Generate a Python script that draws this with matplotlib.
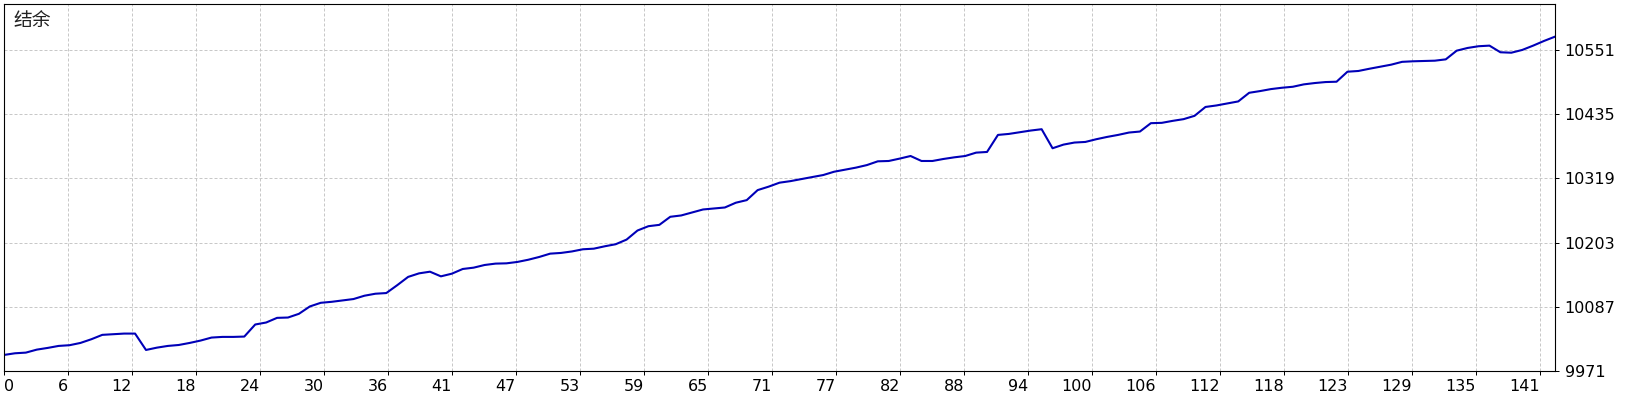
import numpy as np
import matplotlib
matplotlib.use('Agg')
import matplotlib.pyplot as plt
from matplotlib import font_manager

# balance after each trade
balance = [
    10000.0, 10003.0, 10004.2, 10009.6, 10012.7, 10016.3, 10017.6, 10021.7, 10028.4, 10036.3,
    10037.5, 10038.6, 10038.6, 10009.0, 10013.2, 10016.3, 10018.0, 10021.7, 10026.0, 10031.4,
    10032.6, 10032.6, 10033.2, 10055.0, 10058.6, 10067.0, 10067.6, 10074.3, 10087.6, 10094.2,
    10096.0, 10098.4, 10101.0, 10107.0, 10110.6, 10111.8, 10126.0, 10141.0, 10147.4, 10150.4,
    10142.0, 10146.8, 10155.3, 10157.7, 10162.5, 10165.0, 10165.5, 10168.0, 10172.0, 10177.0,
    10183.0, 10184.3, 10187.0, 10190.9, 10192.0, 10196.3, 10200.0, 10208.4, 10224.8, 10232.6,
    10235.0, 10249.6, 10252.0, 10257.4, 10262.8, 10264.6, 10266.4, 10275.0, 10279.7, 10297.8,
    10304.0, 10311.2, 10314.0, 10317.8, 10321.4, 10325.0, 10331.0, 10334.7, 10338.4, 10343.0,
    10349.8, 10350.4, 10354.7, 10359.4, 10350.4, 10350.4, 10354.0, 10357.0, 10359.4, 10365.5,
    10366.7, 10397.5, 10399.3, 10402.4, 10405.4, 10407.8, 10373.4, 10380.0, 10383.7, 10384.8,
    10389.7, 10393.9, 10397.5, 10401.8, 10403.6, 10418.7, 10419.3, 10422.9, 10426.0, 10432.0,
    10448.0, 10450.7, 10454.4, 10458.0, 10473.6, 10476.7, 10480.3, 10482.7, 10484.5, 10488.8,
    10491.2, 10493.0, 10493.6, 10511.7, 10513.0, 10517.0, 10520.7, 10524.4, 10529.5, 10530.5,
    10531.0, 10531.6, 10534.0, 10549.7, 10554.6, 10557.7, 10558.8, 10546.8, 10546.0, 10551.0,
    10558.8, 10567.3, 10575.0,
]

x_labels = ['0', '6', '12', '18', '24', '30', '36', '41', '47', '53', '59', '65', '71',
            '77', '82', '88', '94', '100', '106', '112', '118', '123', '129', '135', '141']
y_ticks = [9971, 10087, 10203, 10319, 10435, 10551]
y_top = 10634
title = '结余'


def tick_font():
    # narrow sans if it is there, plain DejaVu otherwise
    names = {f.name for f in font_manager.fontManager.ttflist}
    if 'DejaVu Sans Condensed' in names:
        return 'DejaVu Sans Condensed', 12.5
    return 'DejaVu Sans', 11.5


def main():
    fig = plt.figure(figsize=(16.4, 4), dpi=100)
    ax = fig.add_axes([4 / 1640, 29 / 400, 1551 / 1640, 367 / 400])

    n = len(balance) - 1
    ax.plot(np.arange(len(balance)), balance, color='#0000b8', lw=1.5)

    ax.set_xlim(0, n)
    ax.set_ylim(y_ticks[0], y_top)

    # grid is one cell every 64 px
    step = n * 64 / 1551
    ax.set_xticks(np.arange(len(x_labels)) * step)
    ax.set_xticklabels(x_labels)
    ax.set_yticks(y_ticks)
    ax.set_yticklabels([str(v) for v in y_ticks])

    ax.yaxis.tick_right()
    ax.grid(True, color='#c8c8c8', ls=(0, (3, 2)), lw=0.72)
    ax.set_axisbelow(True)
    for s in ax.spines.values():
        s.set_linewidth(0.8)
        s.set_color('black')

    fam, size = tick_font()
    ax.tick_params(axis='both', direction='out', length=3, width=0.72, colors='black')
    ax.tick_params(axis='x', pad=3)
    ax.tick_params(axis='y', pad=4)

    for lab in ax.get_xticklabels() + ax.get_yticklabels():
        lab.set_family(fam)
        lab.set_fontsize(size)
    labels = ax.get_xticklabels()
    for lab in labels:
        lab.set_ha('right')
    labels[0].set_ha('left')

    ax.text(0.006, 0.985, title, transform=ax.transAxes, va='top', ha='left',
            fontsize=13.5, color='#222222', family=['Noto Sans CJK SC', 'DejaVu Sans'])

    fig.savefig('out.png', dpi=100)
    plt.close(fig)


if __name__ == '__main__':
    main()
